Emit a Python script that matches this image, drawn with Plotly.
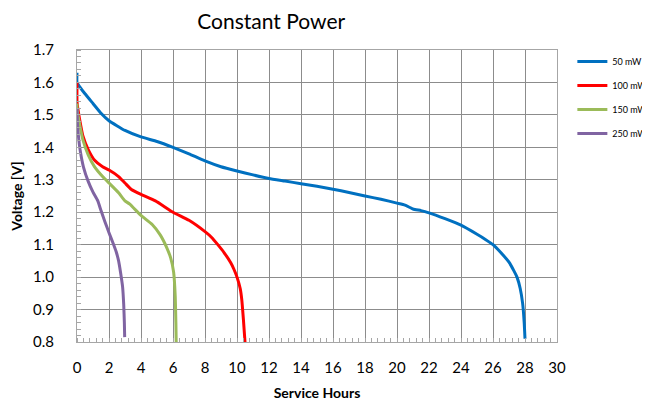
import plotly.graph_objects as go

# ---- data ----
series_names = ["50 mW", "100 mW", "150 mW", "250 mW"]

hours_50 = [0, 0, 0.15, 0.5, 1, 1.5, 2, 3, 4, 5, 6, 7, 8, 9, 10, 11, 12, 13, 14, 15,
            16, 17, 18, 19, 20, 20.5, 21, 21.5, 22, 23, 24, 25, 25.5, 26, 26.5, 27,
            27.3, 27.5, 27.7, 27.85, 27.95, 28.0]
volts_50 = [1.63, 1.60, 1.588, 1.565, 1.535, 1.505, 1.482, 1.452, 1.432, 1.418, 1.400,
            1.380, 1.358, 1.340, 1.327, 1.315, 1.304, 1.296, 1.288, 1.280, 1.271, 1.261,
            1.250, 1.240, 1.228, 1.222, 1.210, 1.205, 1.198, 1.180, 1.160, 1.132, 1.117,
            1.100, 1.075, 1.046, 1.020, 1.000, 0.965, 0.920, 0.860, 0.810]

hours_100 = [0, 0, 0.05, 0.15, 0.37, 0.7, 1.1, 1.6, 2, 2.6, 3, 3.4, 4, 4.9, 6, 7, 8,
             8.4, 8.8, 9.2, 9.6, 9.8, 10.0, 10.2, 10.3, 10.4, 10.5]
volts_100 = [1.60, 1.54, 1.52, 1.49, 1.435, 1.393, 1.36, 1.34, 1.33, 1.31, 1.29, 1.27,
             1.255, 1.235, 1.20, 1.175, 1.14, 1.123, 1.10, 1.075, 1.045, 1.025, 1.00,
             0.965, 0.93, 0.87, 0.80]

hours_150 = [0, 0, 0.15, 0.37, 0.7, 1.1, 1.6, 2, 2.6, 3, 3.3, 4, 4.7, 5.2, 5.6, 5.85,
             6.04, 6.14, 6.18, 6.2]
volts_150 = [1.535, 1.52, 1.475, 1.423, 1.377, 1.34, 1.31, 1.29, 1.26, 1.235, 1.225,
             1.19, 1.162, 1.13, 1.092, 1.06, 1.015, 0.94, 0.86, 0.80]

hours_250 = [0, 0.03, 0.1, 0.2, 0.4, 0.7, 1.0, 1.3, 1.5, 1.75, 2.0, 2.25, 2.45, 2.6,
             2.72, 2.85, 2.92, 2.96, 2.98]
volts_250 = [1.52, 1.47, 1.43, 1.39, 1.34, 1.295, 1.262, 1.235, 1.205, 1.17, 1.137,
             1.105, 1.078, 1.05, 1.015, 0.97, 0.915, 0.86, 0.815]

x_ticks = list(range(0, 31, 2))
y_ticks = [0.8, 0.9, 1.0, 1.1, 1.2, 1.3, 1.4, 1.5, 1.6, 1.7]

colors = ["#0070C0", "#FF0000", "#9BBB59", "#8064A2"]
all_hours = [hours_50, hours_100, hours_150, hours_250]
all_volts = [volts_50, volts_100, volts_150, volts_250]

fig = go.Figure()
for name, hx, vy, c in zip(series_names, all_hours, all_volts, colors):
    fig.add_trace(go.Scatter(x=hx, y=vy, mode="lines", name=name,
                             legendgroup=name,
                             line=dict(color=c, width=3, shape="spline", smoothing=0.4)))

font_family = "Lato, Open Sans, sans-serif"
grid_col = "#8c8c8c"

# page body has an 8px margin, so the figure is sized/offset to fit the 650x409 window
fig.update_layout(
    width=642, height=393,
    margin=dict(l=69, r=93, t=42, b=59, autoexpand=False),
    paper_bgcolor="white", plot_bgcolor="white",
    font=dict(family=font_family, color="black"),
    title=dict(text="Constant Power", x=0.41, xanchor="center", y=0.964,
               yanchor="middle", xref="container", yref="container",
               font=dict(size=21, family=font_family, color="black")),
    legend=dict(x=1.032, y=1.01, xanchor="left", yanchor="top",
                font=dict(size=9, family=font_family), tracegroupgap=5,
                bgcolor="rgba(0,0,0,0)", itemwidth=30),
    showlegend=True,
)

fig.update_xaxes(
    range=[0, 30], tickvals=x_ticks, ticktext=[str(t) for t in x_ticks],
    showgrid=True, gridcolor=grid_col, gridwidth=1,
    showline=True, linecolor="#a6a6a6", linewidth=1, mirror=True,
    ticks="", tickfont=dict(size=15, family=font_family), ticklabelstandoff=12,
    minor=dict(dtick=0.4, ticks="inside", ticklen=4, tickcolor="#a6a6a6", showgrid=False),
    zeroline=False, automargin=False,
    title=dict(text="<b>Service Hours</b>", font=dict(size=14, family=font_family), standoff=14),
)
fig.update_yaxes(
    range=[0.8, 1.7], tickvals=y_ticks, ticktext=[f"{t:.1f}" for t in y_ticks],
    showgrid=True, gridcolor=grid_col, gridwidth=1,
    showline=True, linecolor="#a6a6a6", linewidth=1, mirror=True,
    ticks="", tickfont=dict(size=15, family=font_family), ticklabelstandoff=19,
    minor=dict(dtick=0.02, ticks="inside", ticklen=4, tickcolor="#a6a6a6", showgrid=False),
    zeroline=False, automargin=False,
    title=dict(text="<b>Voltage [V]</b>", font=dict(size=14, family=font_family), standoff=8),
)

fig.write_html("out.html")
